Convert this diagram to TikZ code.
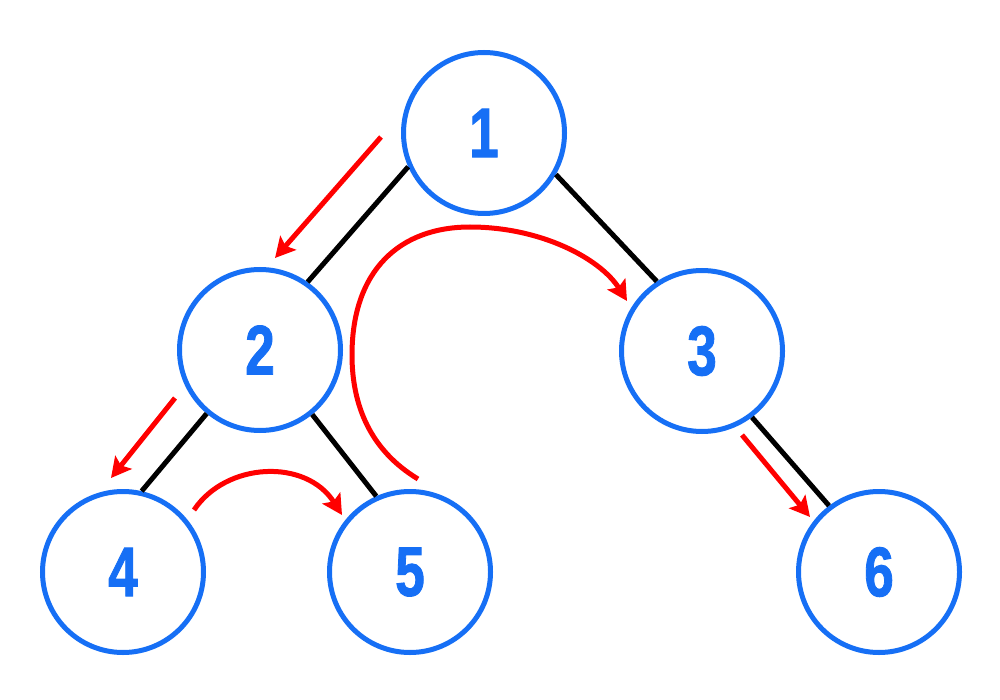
\documentclass[tikz,border=0pt]{standalone}
\usepackage{fontspec}
\setmainfont{Liberation Sans}
\newfontfamily\digfont[FakeBold=1.5]{Liberation Sans}
\usetikzlibrary{arrows.meta}
\definecolor{nodeblue}{RGB}{22,111,245}
\definecolor{arrowred}{RGB}{255,0,0}
\tikzset{
  treenode/.style={circle, draw=nodeblue, line width=5pt, minimum size=161pt, inner sep=0pt,
    text=nodeblue, font=\digfont\fontsize{70}{70}\selectfont\bfseries},
  edge/.style={black, line width=5pt},
  walk/.style={arrowred, line width=5pt, -{Stealth[length=20pt,width=21pt,inset=4pt]}},
}
\newcommand{\dig}[1]{\scalebox{0.76}[1]{#1}}
\begin{document}
\begin{tikzpicture}[x=1pt,y=-1pt]
\useasboundingbox (0,0) rectangle (1000,700);
\node[treenode] (n1) at (484,133) {\dig{1}};
\node[treenode] (n2) at (260,350) {\dig{2}};
\node[treenode] (n3) at (702,351) {\dig{3}};
\node[treenode] (n4) at (123,572) {\dig{4}};
\node[treenode] (n5) at (410,572) {\dig{5}};
\node[treenode] (n6) at (879,572) {\dig{6}};
\draw[edge] (n1.204) -- (n2.55);
\draw[edge] (n1.330) -- (n3.123);
\draw[edge] (n2.230) -- (n4.77);
\draw[edge] (n2.309) -- (n5.114);
\draw[edge] (n3.307) -- (n6.127);
\coordinate (a1) at (381,137); \coordinate (a2) at (275,258);
\coordinate (b1) at (175,398); \coordinate (b2) at (111,478);
\coordinate (c1) at (194,510); \coordinate (c2) at (342,515);
\coordinate (d1) at (418,479); \coordinate (dl) at (352,355); \coordinate (dt) at (470,227); \coordinate (d2) at (627,301);
\coordinate (e1) at (742,435); \coordinate (e2) at (810,517);
\draw[walk] (a1) -- (a2);
\draw[walk] (b1) -- (b2);
\draw[walk] (c1) .. controls (226,462) and (306,458) .. (c2);
\draw[walk] (d1) .. controls (370,450) and (352,405) .. (dl) .. controls (352,270) and (400,227) .. (dt) .. controls (540,227) and (600,258) .. (d2);
\draw[walk] (e1) -- (e2);
\end{tikzpicture}
\end{document}
